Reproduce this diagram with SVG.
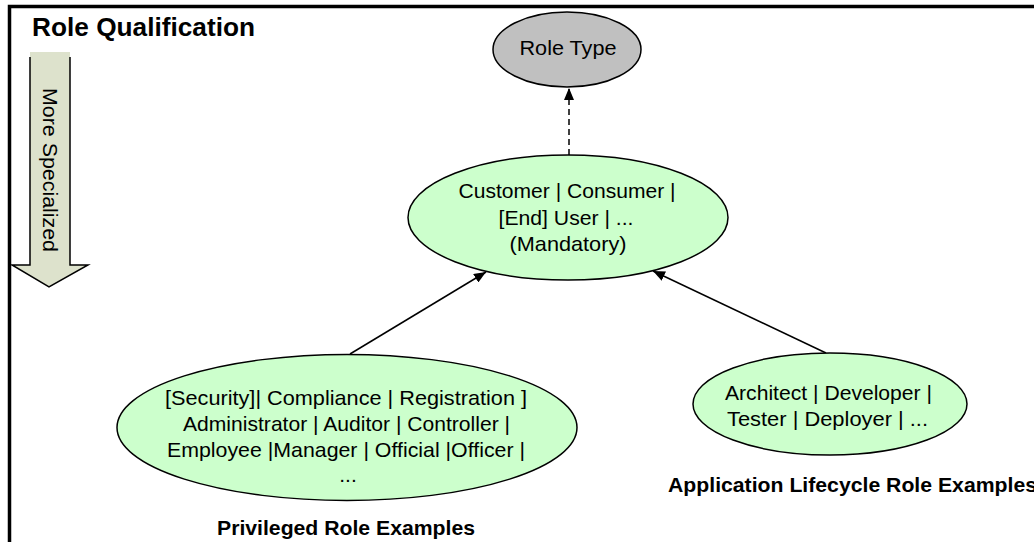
<svg xmlns="http://www.w3.org/2000/svg" width="1034" height="542" viewBox="0 0 1034 542">
<style>
.t{font-family:"Liberation Sans",Arial,sans-serif;font-size:21px;fill:#000;text-anchor:middle}
.b{font-family:"Liberation Sans",Arial,sans-serif;font-size:21px;font-weight:bold;fill:#000}
.node{stroke:#000;stroke-width:1.5}
.green{fill:#ccffcc}
.conn{stroke:#000;stroke-width:1.5;fill:none}
</style>
<defs>
<marker id="ah" viewBox="0 0 12 10" refX="12" refY="5" markerWidth="12" markerHeight="10" markerUnits="userSpaceOnUse" orient="auto">
<path d="M0,0 L12,5 L0,10 Z" fill="#000"/>
</marker>
</defs>
<rect x="0" y="0" width="1034" height="542" fill="#fff"/>
<g id="frame">
<path d="M9.5,542 V6.5 H1034" fill="none" stroke="#000" stroke-width="3.5"/>
</g>
<g id="title">
<text class="b" x="32" y="36" font-size="25" textLength="223" lengthAdjust="spacingAndGlyphs" style="font-size:25px">Role Qualification</text>
</g>
<g id="specialized-arrow">
<path d="M30,52 H70 V265 H88 L49,287 L12,265 H30 Z" fill="#dde2cc"/>
<path d="M30,57 V265 H12 L49,287 L88,265 H70 V57" fill="none" stroke="#000" stroke-width="1.5"/>
<text class="t" transform="translate(50,170) rotate(90)" x="0" y="7" textLength="164" lengthAdjust="spacingAndGlyphs">More Specialized</text>
</g>
<g id="connectors">
<line class="conn" x1="569" y1="155" x2="569" y2="88" stroke-dasharray="6,4" marker-end="url(#ah)"/>
<line class="conn" x1="350" y1="354" x2="486" y2="272" marker-end="url(#ah)"/>
<line class="conn" x1="826" y1="353" x2="653" y2="271" marker-end="url(#ah)"/>
</g>
<g id="role-type">
<ellipse class="node" cx="567" cy="49.5" rx="74" ry="37.5" fill="#c0c0c0"/>
<text class="t" x="568" y="55" textLength="97" lengthAdjust="spacingAndGlyphs">Role Type</text>
</g>
<g id="customer">
<ellipse class="node green" cx="568" cy="217.5" rx="160" ry="62.5"/>
<text class="t" x="567" y="197.5" textLength="217" lengthAdjust="spacingAndGlyphs">Customer | Consumer |</text>
<text class="t" x="566" y="224.5" textLength="135" lengthAdjust="spacingAndGlyphs">[End] User | ...</text>
<text class="t" x="568" y="250.5" textLength="117" lengthAdjust="spacingAndGlyphs">(Mandatory)</text>
</g>
<g id="privileged">
<ellipse class="node green" cx="347" cy="427.5" rx="230" ry="73"/>
<text class="t" x="346" y="405" textLength="362" lengthAdjust="spacingAndGlyphs">[Security]| Compliance | Registration ]</text>
<text class="t" x="346.5" y="431" textLength="327" lengthAdjust="spacingAndGlyphs">Administrator | Auditor | Controller |</text>
<text class="t" x="346" y="457" textLength="358" lengthAdjust="spacingAndGlyphs">Employee |Manager | Official |Officer |</text>
<text class="t" x="348" y="482">...</text>
</g>
<g id="application">
<ellipse class="node green" cx="830" cy="404" rx="137" ry="51"/>
<text class="t" x="828.5" y="399.5" textLength="207" lengthAdjust="spacingAndGlyphs">Architect | Developer |</text>
<text class="t" x="827.5" y="425.5" textLength="201" lengthAdjust="spacingAndGlyphs">Tester | Deployer | ...</text>
</g>
<g id="labels">
<text class="b" x="217" y="535" textLength="258" lengthAdjust="spacingAndGlyphs">Privileged Role Examples</text>
<text class="b" x="668" y="492" textLength="369" lengthAdjust="spacingAndGlyphs">Application Lifecycle Role Examples</text>
</g>
</svg>
